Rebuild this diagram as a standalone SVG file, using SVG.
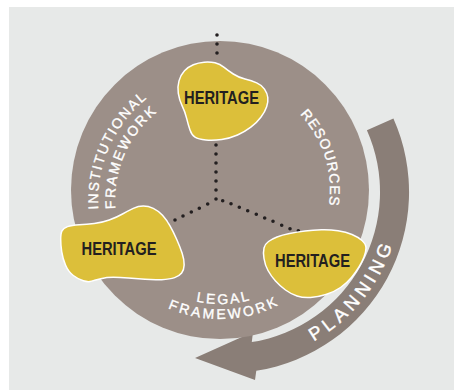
<svg xmlns="http://www.w3.org/2000/svg" width="454" height="390" viewBox="0 0 454 390">
<style>
.blob{fill:#dcbf3a;stroke:#ffffff;stroke-width:1.5}
.her{font-family:"Liberation Sans",Arial,sans-serif;font-weight:bold;font-size:18.5px;fill:#231f20;text-anchor:middle}
.lbl{font-family:"Liberation Sans",Arial,sans-serif;font-size:14px;fill:#ffffff;stroke:#ffffff;stroke-width:0.35;text-anchor:middle}
.pl{font-family:"Liberation Sans",Arial,sans-serif;font-size:18.5px;fill:#ffffff;stroke:#ffffff;stroke-width:0.4;text-anchor:middle;letter-spacing:4.5px}
.dot{fill:none;stroke:#231f20;stroke-width:3.6;stroke-linecap:round}
</style>
<defs>
<path id="pInst" d="M101.9,231.4 A130,130 0 0 1 167,85.2"/>
<path id="pFw1" d="M118.4,227.3 A113,113 0 0 1 173.6,101"/>
<path id="pRes" d="M275,94.7 A110,110 0 0 1 319.7,236.5"/>
<path id="pLegal" d="M149.8,279.8 A114,114 0 0 0 296.3,274.7"/>
<path id="pFw2" d="M140.6,291.7 A129,129 0 0 0 306.3,285.9"/>
<path id="pPlan" d="M257.3,361.5 A173,173 0 0 0 400.9,182.5"/>
</defs>
<rect x="0" y="0" width="454" height="390" fill="#ffffff"/>
<rect x="9" y="7" width="445" height="383" fill="#e7e9e8"/>
<g id="planning">
<path d="M393.4,118.4 A181,181 0 0 1 256.3,370.8 L255,380 L195,358 L253,332 L251.8,342.1 A152,152 0 0 0 366.9,130.2 Z" fill="#8a7e77"/>
<text class="pl"><textPath href="#pPlan" startOffset="50%">PLANNING</textPath></text>
</g>
<g id="circle">
<circle cx="220" cy="190" r="149" fill="#9c8f88"/>
<text class="lbl" style="letter-spacing:1.7px"><textPath href="#pInst" startOffset="50%">INSTITUTIONAL</textPath></text>
<text class="lbl" style="letter-spacing:2px"><textPath href="#pFw1" startOffset="50%">FRAMEWORK</textPath></text>
<text class="lbl" style="letter-spacing:1.2px"><textPath href="#pRes" startOffset="50%">RESOURCES</textPath></text>
<text class="lbl" style="letter-spacing:2.2px"><textPath href="#pLegal" startOffset="50%">LEGAL</textPath></text>
<text class="lbl" style="letter-spacing:2.6px"><textPath href="#pFw2" startOffset="50%">FRAMEWORK</textPath></text>
</g>
<g id="connectors">
<path class="dot" d="M217,35h0M217,44h0M217,53h0"/>
<path class="dot" d="M216,145h0M216,154h0M216,163h0M216,172h0M216,181h0M216,190h0M216,199h0"/>
<path class="dot" d="M207.7,204h0M199.3,208.3h0M191.3,212h0M183,216h0M175,220h0M166.7,222.7h0"/>
<path class="dot" d="M222.7,200.7h0M231,203.7h0M239.3,207.3h0M247.7,210.7h0M256.3,214.3h0M264.7,218h0M273,221.3h0M281.7,225.3h0M290,228.7h0M298.3,230.7h0"/>
</g>
<g id="heritage-top">
<path class="blob" d="M178.3,93.35 Q177.3,86.7 179,80.85 Q180.7,75 184.5,70.85 Q188.3,66.7 193.3,64.7 Q198.3,62.7 204.15,62.2 Q210,61.7 215,62.85 Q220,64 224.15,67.35 Q228.3,70.7 233.3,74 Q238.3,77.3 245,79 Q251.7,80.7 256.7,82.85 Q261.7,85 264.5,89.15 Q267.3,93.3 267.8,97.5 Q268.3,101.7 266.65,106.7 Q265,111.7 260.85,117.2 Q256.7,122.7 250.85,127.2 Q245,131.7 237.5,135 Q230,138.3 221.65,139.5 Q213.3,140.7 205.8,140 Q198.3,139.3 195,137.15 Q191.7,135 190,130 Q188.3,125 186.65,118.35 Q185,111.7 182.15,105.85 Q179.3,100 178.3,93.35 Z"/>
<text class="her" x="221.5" y="104" textLength="75" lengthAdjust="spacingAndGlyphs">HERITAGE</text>
</g>
<g id="heritage-left">
<path class="blob" d="M60.7,239.15 Q60.7,233.3 62,230.8 Q63.3,228.3 67.5,226.65 Q71.7,225 79.2,224.65 Q86.7,224.3 94.2,223.5 Q101.7,222.7 109.2,220 Q116.7,217.3 122.5,214 Q128.3,210.7 133.3,208.35 Q138.3,206 143.3,206 Q148.3,206 153.3,208.35 Q158.3,210.7 162.5,215.35 Q166.7,220 170,225.85 Q173.3,231.7 176.65,239.2 Q180,246.7 182.15,253.35 Q184.3,260 184.15,265 Q184,270 181.65,273 Q179.3,276 174.65,277.65 Q170,279.3 161.65,279.65 Q153.3,280 145,279.35 Q136.7,278.7 128.35,278 Q120,277.3 113.35,277.3 Q106.7,277.3 100.85,278.65 Q95,280 91.65,281.15 Q88.3,282.3 83.3,280.8 Q78.3,279.3 73.3,275.5 Q68.3,271.7 65.5,265 Q62.7,258.3 61.7,251.65 Q60.7,245 60.7,239.15 Z"/>
<text class="her" x="119" y="255" textLength="75" lengthAdjust="spacingAndGlyphs">HERITAGE</text>
</g>
<g id="heritage-right">
<path class="blob" d="M264,258.5 Q263,252 264,248 Q265,244 268.5,241.5 Q272,239 277,237 Q282,235 289.5,233.5 Q297,232 305,231 Q313,230 321.5,229.75 Q330,229.5 338,230.75 Q346,232 352,234.5 Q358,237 362,240.5 Q366,244 366,248 Q366,252 364,257 Q362,262 359,267 Q356,272 351.5,277.5 Q347,283 340.5,287.5 Q334,292 326,294.5 Q318,297 310.5,297.5 Q303,298 297,296 Q291,294 285.5,290 Q280,286 275.5,281 Q271,276 268,270.5 Q265,265 264,258.5 Z"/>
<text class="her" x="312.5" y="266.7" textLength="75" lengthAdjust="spacingAndGlyphs">HERITAGE</text>
</g>
</svg>
